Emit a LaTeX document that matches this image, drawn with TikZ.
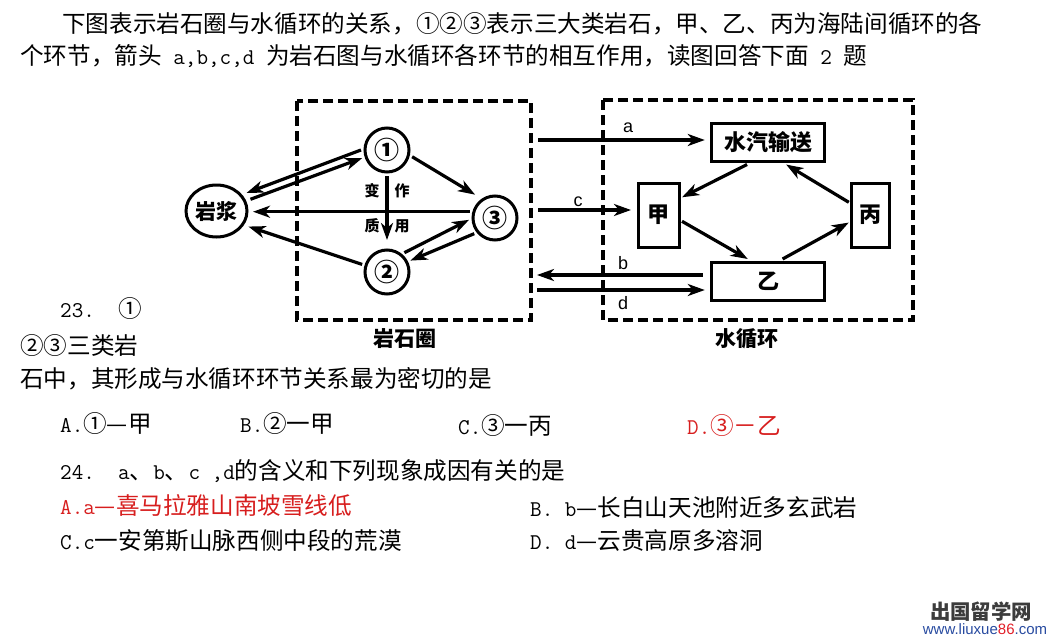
\documentclass[tikz,border=0pt]{standalone}
\usepackage{fontspec}
\setmainfont{Noto Sans CJK SC}
\newfontfamily\latinsans{Liberation Sans}
\usetikzlibrary{arrows.meta,shapes.geometric}
\definecolor{AnswerRed}{RGB}{215,30,30}
\definecolor{MarkGray}{RGB}{60,60,60}
\definecolor{MarkBlue}{RGB}{40,75,160}
\definecolor{MarkRed}{RGB}{225,30,40}
\newcommand{\hw}[1]{{\ttfamily\fontsize{22.5}{24}\selectfont #1}}

\begin{document}
\begin{tikzpicture}[x=1pt,y=-1pt]
          \useasboundingbox (0,0) rectangle (1063,637);
          \tikzstyle{TextStyle}=[anchor=west, inner sep=0pt, text height=20.8pt, text depth=2.8pt, font=\fontsize{23.6}{26}\selectfont]
          \tikzstyle{RockStyle}=[circle, draw, line width=3pt, minimum size=44pt, inner sep=0pt, outer sep=4pt, font=\bfseries\fontsize{25}{25}\selectfont]
          \tikzstyle{BoxStyle}=[rectangle, draw, line width=3pt, inner sep=0pt, outer sep=3pt, font=\bfseries\fontsize{22}{22}\selectfont]
          \tikzstyle{AreaStyle}=[draw, line width=3.2pt, dash pattern=on 10pt off 5pt]
          \tikzstyle{EdgeStyle}=[-{Stealth[length=17pt,width=12pt,inset=5pt]}, line width=3.2pt]
          \tikzstyle{LabelStyle}=[inner sep=0pt, font=\latinsans\fontsize{18}{18}\selectfont]
          \tikzstyle{NoteStyle}=[inner sep=0pt, font=\bfseries\fontsize{15}{15}\selectfont]
          % question text
          \node[TextStyle] (intro1) at (62,23) {下图表示岩石圈与水循环的关系，①②③表示三大类岩石，甲、乙、丙为海陆间循环的各};
          \node[TextStyle] (intro2) at (20,55) {个环节，箭头\hw{ a,b,c,d }为岩石图与水循环各环节的相互作用，读图回答下面\hw{ 2 }题};
          % areas
          \draw[AreaStyle] (297,101) rectangle (531,320);
          \draw[AreaStyle] (603,100) rectangle (913,320);
          \node[inner sep=0pt, font=\bfseries\fontsize{21}{21}\selectfont] (lith) at (405,339) {岩石圈};
          \node[inner sep=0pt, font=\bfseries\fontsize{21}{21}\selectfont] (hydro) at (747,339) {水循环};
          % vertices
          \node[RockStyle, ellipse, minimum width=61pt, minimum height=52pt, outer sep=6pt, font=\bfseries\fontsize{21}{21}\selectfont] (magma) at (216.5,211) {岩浆};
          \node[RockStyle] (r1) at (387,150) {①};
          \node[RockStyle] (r2) at (387,272) {②};
          \node[RockStyle] (r3) at (495,218) {③};
          \node[BoxStyle, minimum width=113pt, minimum height=38pt] (vapour) at (768.3,142.5) {水汽输送};
          \node[BoxStyle, minimum width=41pt, minimum height=64pt] (jia) at (658.5,215) {甲};
          \node[BoxStyle, minimum width=38pt, minimum height=64pt] (bing) at (870.8,215) {丙};
          \node[BoxStyle, minimum width=113pt, minimum height=38pt] (yi) at (768.3,281) {乙};
          % edges
          \draw[EdgeStyle] (r1.180) -- (magma.31);
          \draw[EdgeStyle] (magma.19) -- (r1.198);
          \draw[EdgeStyle, shorten >=5pt] (r1.345) -- (r3.127);
          \draw[EdgeStyle] (r3.166) -- (r3.166 -| magma.east);
          \draw[EdgeStyle] (r2.163) -- (magma.334);
          \draw[EdgeStyle] (r2.48) -- (r3.184);
          \draw[EdgeStyle] (r3.217) -- (r2.26);
          \draw[EdgeStyle, shorten >=6pt] (r1) -- (r2);
          \node[NoteStyle] (bian) at (372,191) {变};
          \node[NoteStyle] (zuo) at (402,191) {作};
          \node[NoteStyle] (zhi) at (372,226) {质};
          \node[NoteStyle] (yong) at (402,226) {用};
          \draw[EdgeStyle] (vapour.226) -- (jia.37);
          \draw[EdgeStyle] (jia.345) -- (yi.133);
          \draw[EdgeStyle] (yi.57) -- (bing.199);
          \draw[EdgeStyle] (bing.150) -- (vapour.309);
          % arrows between the two areas
          \coordinate (aStart) at (538,140);
          \coordinate (cStart) at (538,210);
          \coordinate (bEnd) at (537,275);
          \coordinate (dStart) at (537,290);
          \draw[EdgeStyle, shorten >=4pt] (aStart) -- (aStart -| vapour.west);
          \draw[EdgeStyle, shorten >=4pt] (cStart) -- (cStart -| jia.west);
          \draw[EdgeStyle, shorten <=6pt] (bEnd -| yi.west) -- (bEnd);
          \draw[EdgeStyle, shorten >=4pt] (dStart) -- (dStart -| yi.west);
          \node[LabelStyle] (labA) at (628,128) {a};
          \node[LabelStyle] (labC) at (578,202) {c};
          \node[LabelStyle] (labB) at (623,263) {b};
          \node[LabelStyle] (labD) at (623,303) {d};
          % questions
          \node[TextStyle] (q23a) at (60,308) {\hw{23.\ \ }①};
          \node[TextStyle] (q23b) at (20,345) {②③三类岩};
          \node[TextStyle] (q23c) at (20,378) {石中，其形成与水循环环节关系最为密切的是};
          \node[TextStyle] (optA) at (60,423) {\hw{A.}①—甲};
          \node[TextStyle] (optB) at (240,423) {\hw{B.}②一甲};
          \node[TextStyle] (optC) at (458,425) {\hw{C.}③一丙};
          \node[TextStyle, text=AnswerRed] (optD) at (687,425) {\hw{D.}③－乙};
          \node[TextStyle] (q24) at (60,470) {\hw{24.\ \ a}、\hw{b}、\hw{c ,d}的含义和下列现象成因有关的是};
          \node[TextStyle, text=AnswerRed] (ansA) at (60,505) {\hw{A.a}—喜马拉雅山南坡雪线低};
          \node[TextStyle] (ansB) at (530,507) {\hw{B.\ b}—长白山天池附近多玄武岩};
          \node[TextStyle] (ansC) at (60,540) {\hw{C.c}一安第斯山脉西侧中段的荒漠};
          \node[TextStyle] (ansD) at (530,540) {\hw{D.\ d}—云贵高原多溶洞};
          % mark
          \node[inner sep=0pt, text=MarkGray, font=\bfseries\fontsize{20.4}{21}\selectfont] (markCn) at (981,612) {出国留学网};
          \node[inner sep=0pt, text=MarkBlue, font=\latinsans\fontsize{15}{15}\selectfont] (markUrl) at (985,629) {www.liuxue\textcolor{MarkRed}{86}.com};
        \end{tikzpicture}
\end{document}
